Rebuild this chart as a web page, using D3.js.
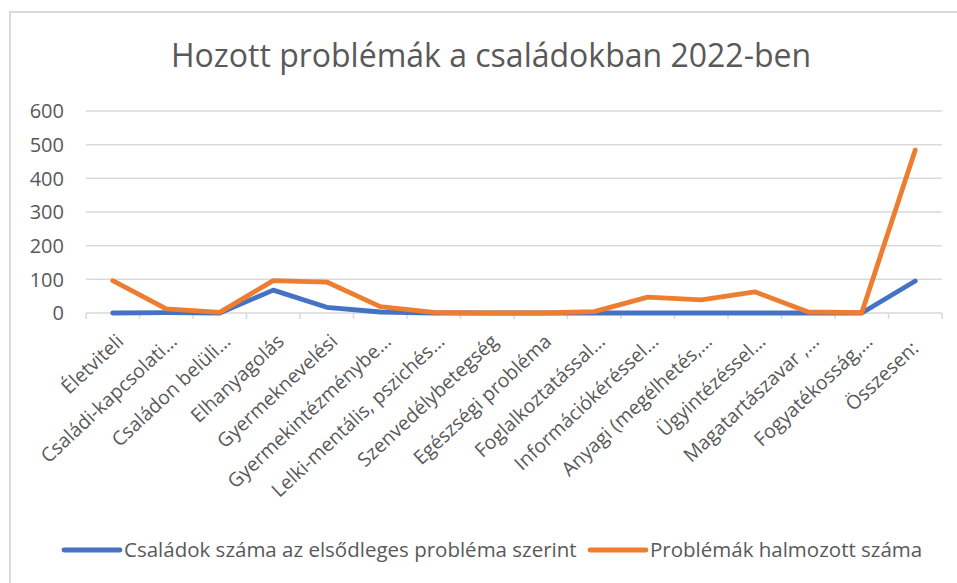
<!DOCTYPE html>
<html>
<head>
<meta charset="utf-8">
<script src="https://cdn.jsdelivr.net/npm/d3@7"></script>
<style>
  body { margin: 0; background: #fff; }
  text { font-family: "Open Sans", sans-serif; fill: #595959; }
</style>
</head>
<body>
<script>
var categories = ["Életviteli", "Családi-kapcsolati…", "Családon belüli…", "Elhanyagolás",
  "Gyermeknevelési", "Gyermekintézménybe…", "Lelki-mentális, pszichés…", "Szenvedélybetegség",
  "Egészségi probléma", "Foglalkoztatással…", "Információkéréssel…", "Anyagi (megélhetés,…",
  "Ügyintézéssel…", "Magatartászavar ,…", "Fogyatékosság,…", "Összesen:\u00a0\u00a0"];
var csaladok = [0, 1, 0, 68, 17, 3, 0, 0, 0, 0, 0, 0, 0, 0, 0, 95];
var problemak = [96, 12, 2, 96, 92, 19, 2, 0, 0, 4, 47, 39, 63, 3, 1, 484];
var yTicks = [0, 100, 200, 300, 400, 500, 600];
var seriesNames = ["Családok száma az elsődleges probléma szerint", "Problémák halmozott száma"];
var colors = ["#4472C4", "#ED7D31"];

var W = 957, H = 583;
var left = 86, right = 942;

var svg = d3.select("body").append("svg")
  .attr("width", W)
  .attr("height", H);

// chart border
svg.append("rect")
  .attr("x", 10).attr("y", 12)
  .attr("width", W + 10).attr("height", H + 10)
  .attr("fill", "none")
  .attr("stroke", "#d9d9d9")
  .attr("stroke-width", 2);

svg.append("text")
  .attr("x", 491).attr("y", 67)
  .attr("text-anchor", "middle")
  .style("font-size", "32px")
  .text("Hozott problémák a családokban 2022-ben");

var x = d3.scaleBand()
  .domain(categories)
  .range([left, right]);

var y = d3.scaleLinear()
  .domain([0, 600])
  .range([313, 111]);

// gridlines
svg.append("g")
  .selectAll("line")
  .data(yTicks.slice(1))
  .enter().append("line")
  .attr("x1", left).attr("x2", right)
  .attr("y1", function(d) { return y(d); })
  .attr("y2", function(d) { return y(d); })
  .attr("stroke", "#d9d9d9")
  .attr("stroke-width", 1.5);

// y labels
svg.append("g")
  .selectAll("text")
  .data(yTicks)
  .enter().append("text")
  .attr("x", 64)
  .attr("y", function(d) { return y(d); })
  .attr("dy", "0.36em")
  .attr("text-anchor", "end")
  .style("font-size", "20px")
  .text(function(d) { return d; });

// x axis line
svg.append("line")
  .attr("x1", left).attr("x2", right)
  .attr("y1", y(0)).attr("y2", y(0))
  .attr("stroke", "#d9d9d9")
  .attr("stroke-width", 1.5);

// boundary ticks between categories
var bounds = categories.map(function(c) { return x(c); }).concat([right]);
svg.append("g")
  .selectAll("line")
  .data(bounds)
  .enter().append("line")
  .attr("x1", function(d) { return d; })
  .attr("x2", function(d) { return d; })
  .attr("y1", y(0)).attr("y2", y(0) + 6)
  .attr("stroke", "#d9d9d9")
  .attr("stroke-width", 1.5);

// x labels
svg.append("g")
  .selectAll("text")
  .data(categories)
  .enter().append("text")
  .attr("transform", function(d) {
    return "translate(" + (x(d) + x.bandwidth() / 2 + 12) + ",343) rotate(-43)";
  })
  .attr("text-anchor", "end")
  .style("font-size", "19.5px")
  .text(function(d) { return d; });

// lines
var line = d3.line()
  .x(function(d, i) { return x(categories[i]) + x.bandwidth() / 2; })
  .y(function(d) { return y(d); });

[csaladok, problemak].forEach(function(s, i) {
  svg.append("path")
    .datum(s)
    .attr("d", line)
    .attr("fill", "none")
    .attr("stroke", colors[i])
    .attr("stroke-width", 4.8)
    .attr("stroke-linejoin", "round")
    .attr("stroke-linecap", "round");
});

// legend
var legendX = [64, 590];
seriesNames.forEach(function(n, i) {
  var g = svg.append("g").attr("transform", "translate(" + legendX[i] + ",550)");
  g.append("line")
    .attr("x1", 0).attr("x2", 56)
    .attr("stroke", colors[i])
    .attr("stroke-width", 4.8)
    .attr("stroke-linecap", "round");
  g.append("text")
    .attr("x", 60)
    .attr("dy", "0.36em")
    .style("font-size", "20.5px")
    .text(n);
});
</script>
</body>
</html>
